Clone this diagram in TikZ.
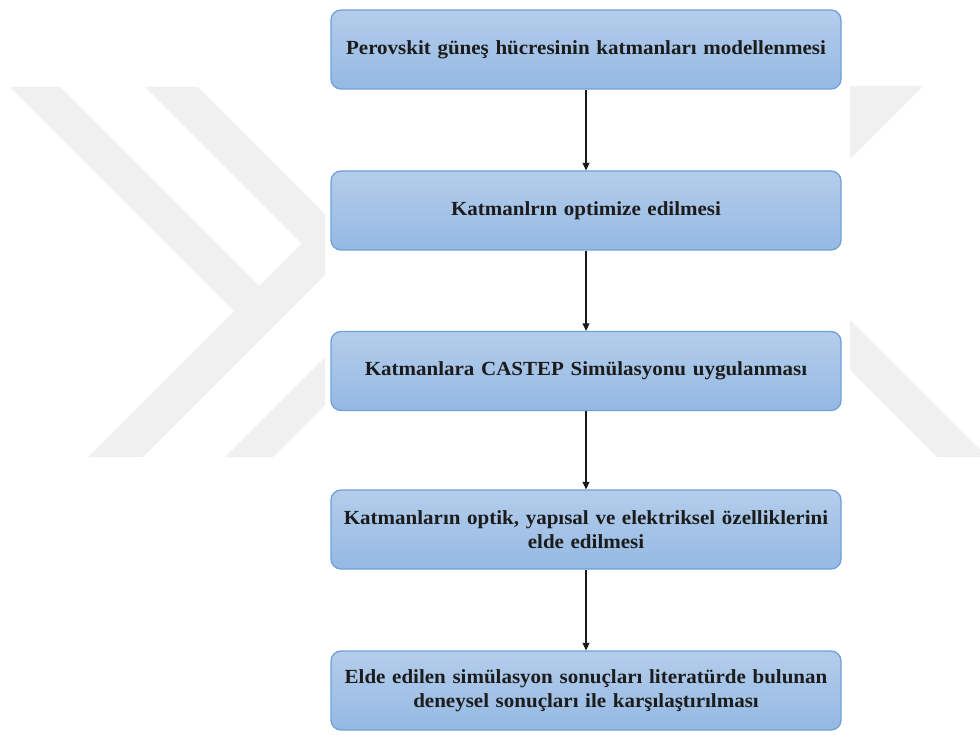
\documentclass[tikz,border=0pt]{standalone}
\usepackage{fontspec}
\setmainfont{Liberation Serif}[FakeStretch=1.05]
\usetikzlibrary{arrows.meta}
\definecolor{wm}{RGB}{240,240,240}
\definecolor{boxtop}{RGB}{180,205,235}
\definecolor{boxbot}{RGB}{148,185,227}
\definecolor{boxline}{RGB}{112,160,216}
\definecolor{txt}{RGB}{28,28,28}
\tikzset{
  stepbox/.style={draw=boxline, line width=1.3pt, rounded corners=10pt,
    top color=boxtop, bottom color=boxbot,
    minimum width=510pt, minimum height=79pt, text width=500pt, align=center,
    font=\fontsize{20}{23.5}\selectfont\bfseries, text=txt, inner sep=0pt},
  arr/.style={line width=1.2pt, draw=black!90, -{Triangle[length=7.5pt,width=7pt]}},
  wmark/.style={fill=wm, draw=none}
}
\begin{document}
\begin{tikzpicture}[x=1pt,y=-1pt]
\useasboundingbox (0,0) rectangle (980,735);
% watermark
\fill[wmark] (10,87) -- (60,87) -- (271.5,298.5) -- (246.5,323.5) -- cycle;
\fill[wmark] (88,457) -- (143,457) -- (325,275) -- (325,220) -- cycle;
\fill[wmark] (145,87) -- (198,87) -- (325,214) -- (325,267) -- cycle;
\fill[wmark] (225,457) -- (273,457) -- (325,405) -- (325,357) -- cycle;
\fill[wmark] (850,86) -- (923,86) -- (850,159) -- cycle;
\fill[wmark] (850,320) -- (980,450) -- (980,457) -- (937,457) -- (850,370) -- cycle;
% boxes
\node[stepbox] (b1) at (586,49.5) {Perovskit güneş hücresinin katmanları modellenmesi};
\node[stepbox] (b2) at (586,210.5) {Katmanlrın optimize edilmesi};
\node[stepbox] (b3) at (586,371) {Katmanlara CASTEP Simülasyonu uygulanması};
\node[stepbox] (b4) at (586,529.5) {Katmanların optik, yapısal ve elektriksel özelliklerini\\elde edilmesi};
\node[stepbox] (b5) at (586,690.5) {Elde edilen simülasyon sonuçları literatürde bulunan\\deneysel sonuçları ile karşılaştırılması};
% arrows
\draw[arr] (b1.south) -- (b2.north);
\draw[arr] (b2.south) -- (b3.north);
\draw[arr] (b3.south) -- (b4.north);
\draw[arr] (b4.south) -- (b5.north);
\end{tikzpicture}
\end{document}
